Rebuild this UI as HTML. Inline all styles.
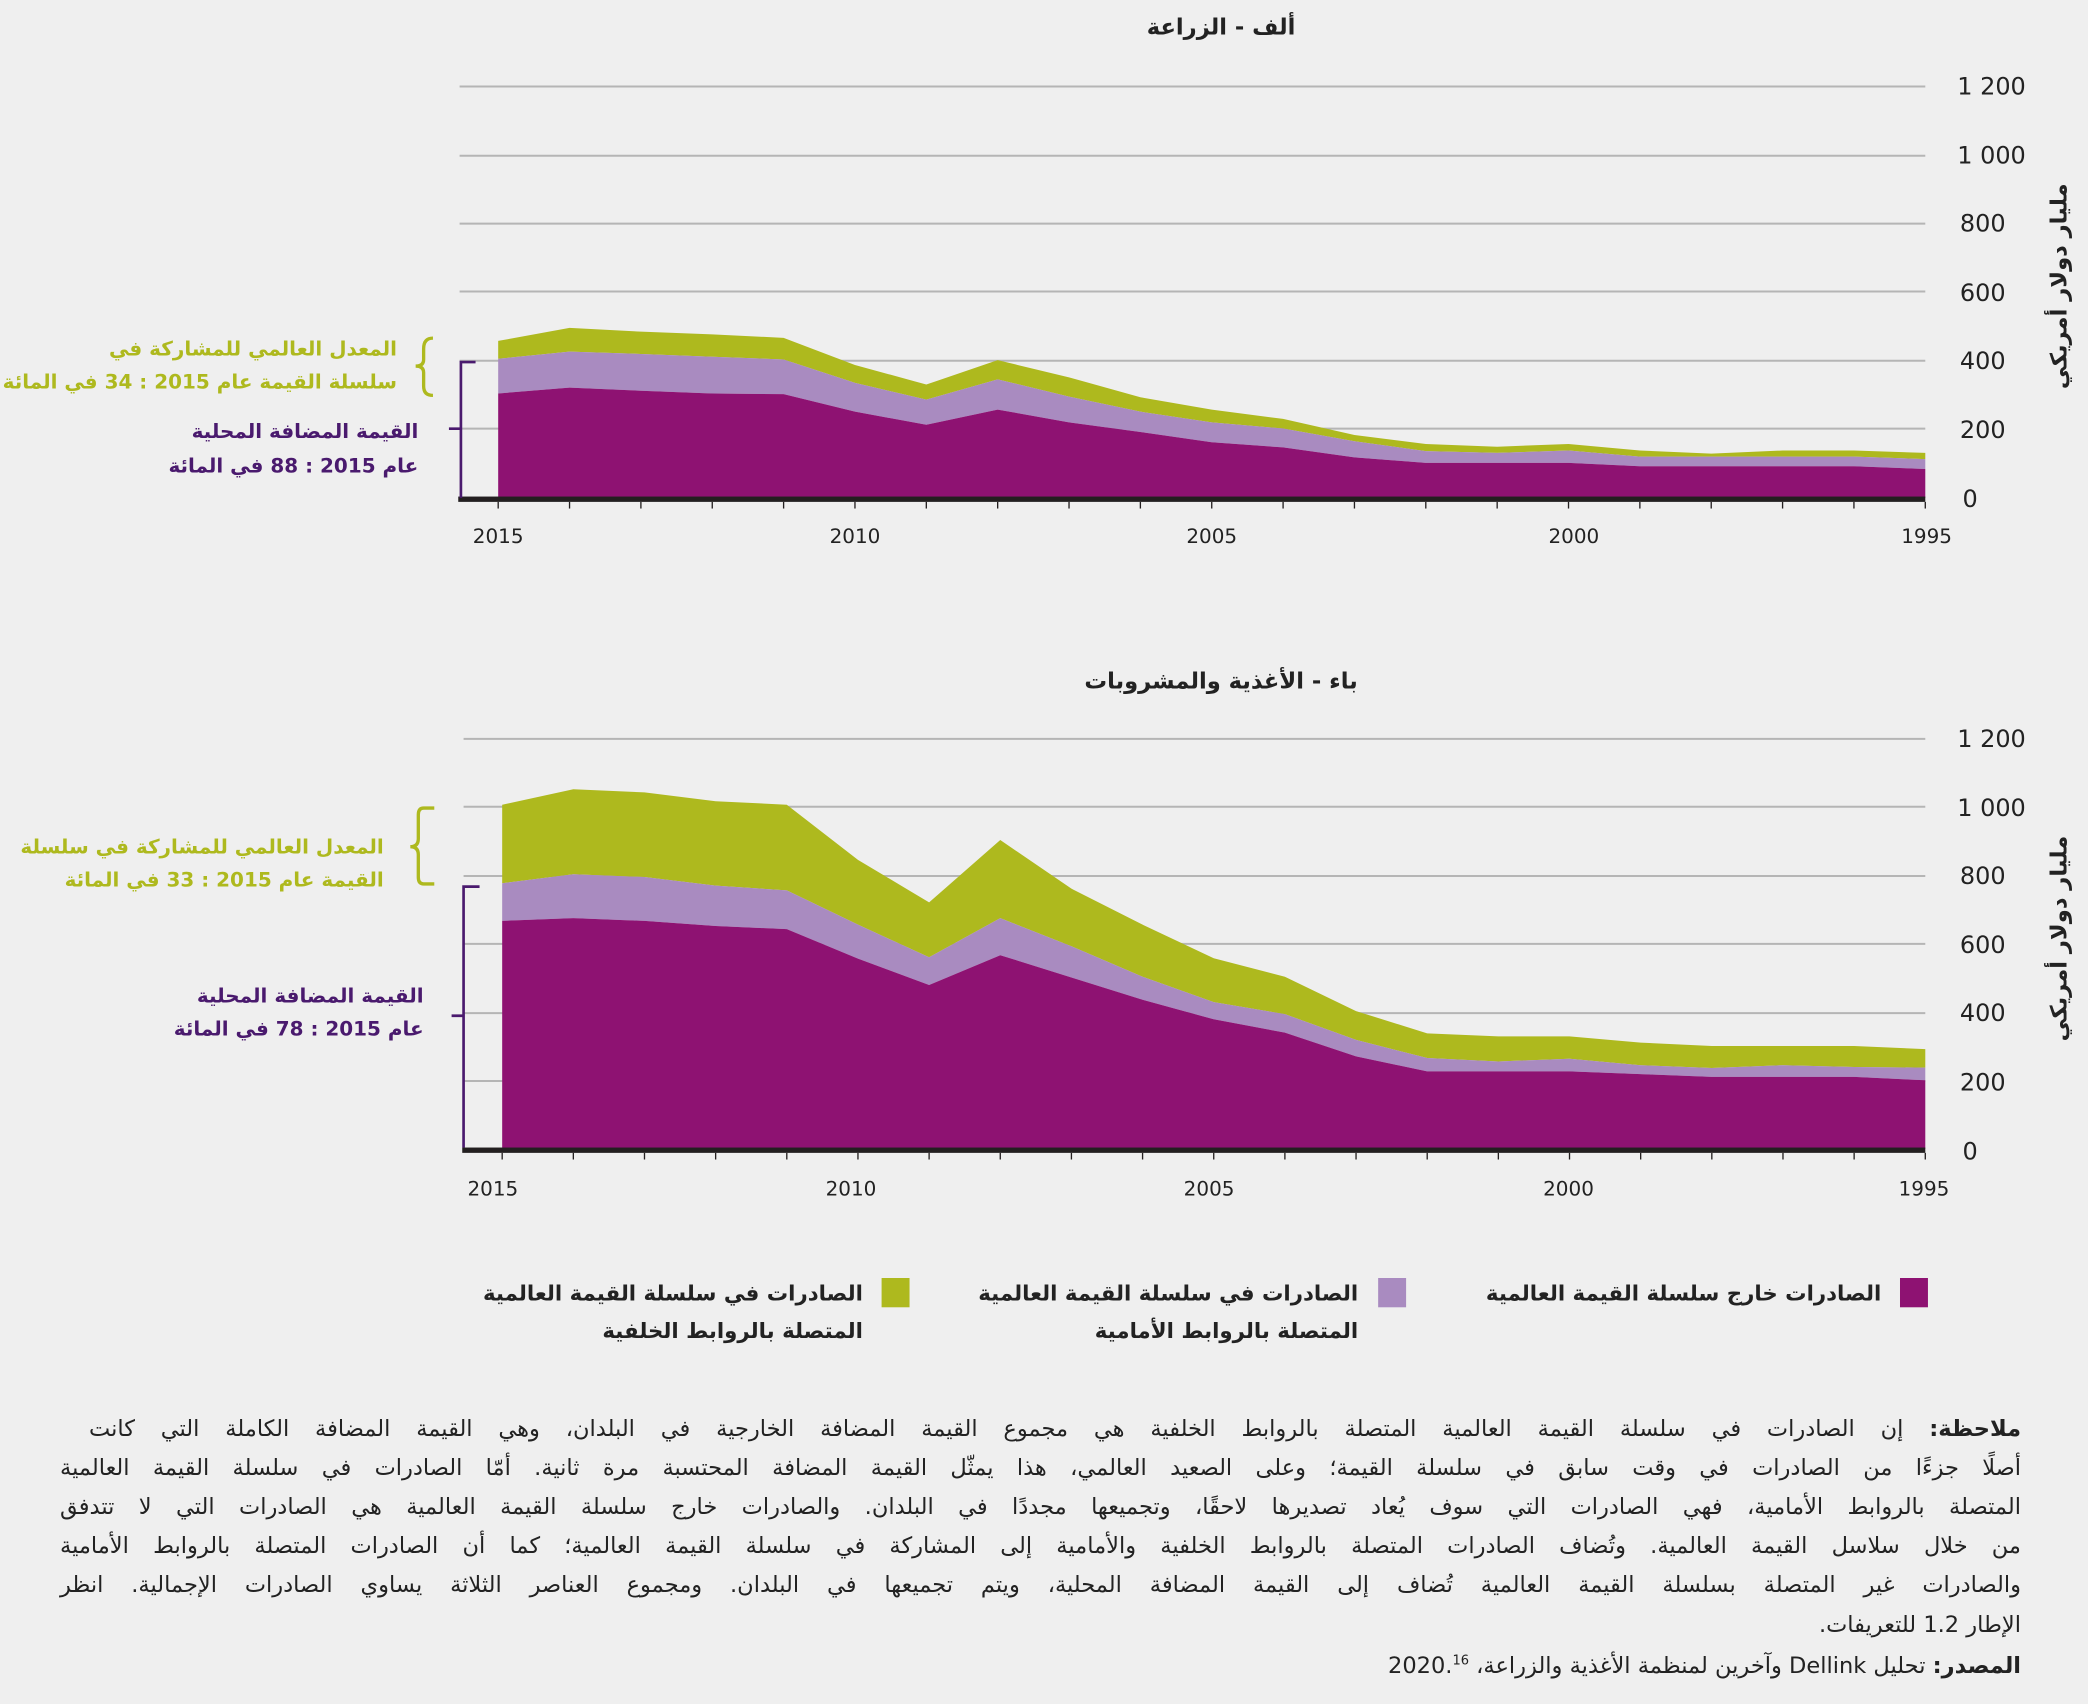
<!DOCTYPE html>
<html><head><meta charset="utf-8"><style>
html,body{margin:0;padding:0;background:#efefef;}
body{position:relative;width:2088px;height:1704px;overflow:hidden;}
svg{display:block;position:absolute;left:0;top:0;}
text{font-family:"DejaVu Sans",sans-serif;}
.note{position:absolute;direction:rtl;font-family:"DejaVu Sans",sans-serif;font-size:22.5px;color:#222;white-space:nowrap;}
.j{text-align:justify;text-align-last:justify;}
</style></head><body>
<svg width="2088" height="1704" viewBox="0 0 1568 1280" xmlns="http://www.w3.org/2000/svg">
<rect width="1568" height="1280" fill="#efefef"/>

<!-- ===== Chart A ===== -->
<text x="917" y="26" text-anchor="middle" font-size="17" font-weight="bold" fill="#222">ألف - الزراعة</text>
<g stroke="#b5b5b5" stroke-width="1.5">
<line x1="345" y1="65" x2="1446" y2="65"/><line x1="345" y1="117" x2="1446" y2="117"/>
<line x1="345" y1="168" x2="1446" y2="168"/><line x1="345" y1="219" x2="1446" y2="219"/>
<line x1="345" y1="271" x2="1446" y2="271"/><line x1="345" y1="322" x2="1446" y2="322"/>
</g>
<g id="chartA"></g>
<g font-size="18" fill="#222" text-anchor="start">
<text x="1470" y="71">1 200</text><text x="1470" y="123">1 000</text><text x="1472" y="174">800</text>
<text x="1472" y="226">600</text><text x="1472" y="277">400</text><text x="1472" y="329">200</text><text x="1474" y="381">0</text>
</g>
<text transform="translate(1552,215) rotate(-90)" text-anchor="middle" font-size="17" font-weight="bold" fill="#222">مليار دولار أمريكي</text>
<g font-size="15" fill="#222" text-anchor="middle">
<text x="374" y="408">2015</text><text x="642" y="408">2010</text><text x="910" y="408">2005</text><text x="1182" y="408">2000</text><text x="1447" y="408">1995</text>
</g>
<g font-size="15" font-weight="bold" fill="#aeb91e" text-anchor="end">
<text x="298" y="267">المعدل العالمي للمشاركة في</text>
<text x="298" y="292">سلسلة القيمة عام 2015 : 34 في المائة</text>
</g>
<path d="M325,254 Q318,254 318,262 L318,270 Q318,275 312,275 Q318,275 318,280 L318,290 Q318,297 325,297" fill="none" stroke="#aeb91e" stroke-width="2.5"/>
<g font-size="15" font-weight="bold" fill="#4a1a6e" text-anchor="end">
<text x="314" y="329">القيمة المضافة المحلية</text>
<text x="314" y="355">عام 2015 : 88 في المائة</text>
</g>
<path d="M357,272 L346,272 L346,374 M337,322 L346,322" fill="none" stroke="#4a1a6e" stroke-width="2"/>

<!-- ===== Chart B ===== -->
<text x="917" y="517" text-anchor="middle" font-size="17" font-weight="bold" fill="#222">باء - الأغذية والمشروبات</text>
<g stroke="#b5b5b5" stroke-width="1.5">
<line x1="348" y1="555" x2="1446" y2="555"/><line x1="348" y1="606" x2="1446" y2="606"/>
<line x1="348" y1="658" x2="1446" y2="658"/><line x1="348" y1="709" x2="1446" y2="709"/>
<line x1="348" y1="761" x2="1446" y2="761"/><line x1="348" y1="812" x2="1446" y2="812"/>
</g>
<g id="chartB"></g>
<g font-size="18" fill="#222" text-anchor="start">
<text x="1470" y="561">1 200</text><text x="1470" y="613">1 000</text><text x="1472" y="664">800</text>
<text x="1472" y="716">600</text><text x="1472" y="767">400</text><text x="1472" y="819">200</text><text x="1474" y="871">0</text>
</g>
<text transform="translate(1552,705) rotate(-90)" text-anchor="middle" font-size="17" font-weight="bold" fill="#222">مليار دولار أمريكي</text>
<g font-size="15" fill="#222" text-anchor="middle">
<text x="370" y="898">2015</text><text x="639" y="898">2010</text><text x="908" y="898">2005</text><text x="1178" y="898">2000</text><text x="1445" y="898">1995</text>
</g>
<g font-size="15" font-weight="bold" fill="#aeb91e" text-anchor="end">
<text x="288" y="641">المعدل العالمي للمشاركة في سلسلة</text>
<text x="288" y="666">القيمة عام 2015 : 33 في المائة</text>
</g>
<path d="M326,607 L318,607 Q314,607 314,612 L314,630 Q314,636 308,636 Q314,636 314,642 L314,659 Q314,664 318,664 L326,664" fill="none" stroke="#aeb91e" stroke-width="2.5"/>
<g font-size="15" font-weight="bold" fill="#4a1a6e" text-anchor="end">
<text x="318" y="753">القيمة المضافة المحلية</text>
<text x="318" y="778">عام 2015 : 78 في المائة</text>
</g>
<path d="M360,666 L348,666 L348,862 M339,763 L348,763" fill="none" stroke="#4a1a6e" stroke-width="2"/>

<!-- ===== Legend ===== -->
<rect x="1427" y="960" width="21" height="22" fill="#8e1272"/>
<text x="1413" y="977" text-anchor="end" font-size="16" font-weight="bold" fill="#222">الصادرات خارج سلسلة القيمة العالمية</text>
<rect x="1035" y="960" width="21" height="22" fill="#a98bc0"/>
<text x="1020" y="977" text-anchor="end" font-size="16" font-weight="bold" fill="#222">الصادرات في سلسلة القيمة العالمية</text>
<text x="1020" y="1005" text-anchor="end" font-size="16" font-weight="bold" fill="#222">المتصلة بالروابط الأمامية</text>
<rect x="662" y="960" width="21" height="22" fill="#aeb91e"/>
<text x="648" y="977" text-anchor="end" font-size="16" font-weight="bold" fill="#222">الصادرات في سلسلة القيمة العالمية</text>
<text x="648" y="1005" text-anchor="end" font-size="16" font-weight="bold" fill="#222">المتصلة بالروابط الخلفية</text>
</svg>

<div class="note j" style="left:89px;width:1932px;top:1416px;"><b>ملاحظة:</b> إن الصادرات في سلسلة القيمة العالمية المتصلة بالروابط الخلفية هي مجموع القيمة المضافة الخارجية في البلدان، وهي القيمة المضافة الكاملة التي كانت</div>
<div class="note j" style="left:60px;width:1961px;top:1455px;">أصلًا جزءًا من الصادرات في وقت سابق في سلسلة القيمة؛ وعلى الصعيد العالمي، هذا يمثّل القيمة المضافة المحتسبة مرة ثانية. أمّا الصادرات في سلسلة القيمة العالمية</div>
<div class="note j" style="left:60px;width:1961px;top:1494px;">المتصلة بالروابط الأمامية، فهي الصادرات التي سوف يُعاد تصديرها لاحقًا، وتجميعها مجددًا في البلدان. والصادرات خارج سلسلة القيمة العالمية هي الصادرات التي لا تتدفق</div>
<div class="note j" style="left:60px;width:1961px;top:1533px;">من خلال سلاسل القيمة العالمية. وتُضاف الصادرات المتصلة بالروابط الخلفية والأمامية إلى المشاركة في سلسلة القيمة العالمية؛ كما أن الصادرات المتصلة بالروابط الأمامية</div>
<div class="note j" style="left:60px;width:1961px;top:1572px;">والصادرات غير المتصلة بسلسلة القيمة العالمية تُضاف إلى القيمة المضافة المحلية، ويتم تجميعها في البلدان. ومجموع العناصر الثلاثة يساوي الصادرات الإجمالية. انظر</div>
<div class="note" style="right:67px;top:1612px;">الإطار 1.2 للتعريفات.</div>
<div class="note" style="right:67px;top:1653px;"><b>المصدر:</b> تحليل Dellink وآخرين لمنظمة الأغذية والزراعة، 2020.<sup style="font-size:13px">16</sup></div>

<script>
function build(id, y0, pxPer, total, light, mag, x0){
  const g=document.getElementById(id), ns="http://www.w3.org/2000/svg";
  const step=(1446-x0)/20;
  const X=i=>x0+i*step, Y=v=>y0-v*pxPer;
  function area(top,bot,fill){
    let d="M"+X(0)+","+Y(top[0]);
    for(let i=1;i<21;i++) d+=" L"+X(i)+","+Y(top[i]);
    for(let i=20;i>=0;i--) d+=" L"+X(i)+","+(bot?Y(bot[i]):y0);
    const p=document.createElementNS(ns,"path");p.setAttribute("d",d+"Z");p.setAttribute("fill",fill);g.appendChild(p);
  }
  area(total,light,"#aeb91e");area(light,mag,"#a98bc0");area(mag,null,"#8e1272");
  const b=document.createElementNS(ns,"rect");
  b.setAttribute("x",x0-30);b.setAttribute("y",y0-1);b.setAttribute("width",1446-x0+30);b.setAttribute("height",4);b.setAttribute("fill","#231f20");g.appendChild(b);
  for(let i=0;i<21;i++){const l=document.createElementNS(ns,"line");
    l.setAttribute("x1",X(i));l.setAttribute("x2",X(i));l.setAttribute("y1",y0+3);l.setAttribute("y2",y0+8);
    l.setAttribute("stroke","#231f20");l.setAttribute("stroke-width","1");g.appendChild(l);}
}
build("chartA",374,51.6/200,
 [457,495,484,476,466,387,330,401,351,293,257,230,183,157,149,157,138,129,138,138,131],
 [405,426,419,411,403,335,286,345,295,251,220,202,165,136,131,138,120,120,120,120,113],
 [304,321,312,304,302,251,213,257,220,192,162,147,118,102,102,102,92,92,92,92,84],374);
build("chartB",863,51.5/200,
 [1004,1049,1040,1014,1004,843,719,901,759,654,556,502,402,337,328,328,310,300,300,300,291],
 [775,801,793,768,754,654,559,673,591,502,428,393,318,265,255,263,244,236,244,239,237],
 [665,673,665,650,641,555,478,565,500,435,378,339,270,226,226,226,218,210,210,210,200],377);
</script>
</body></html>
